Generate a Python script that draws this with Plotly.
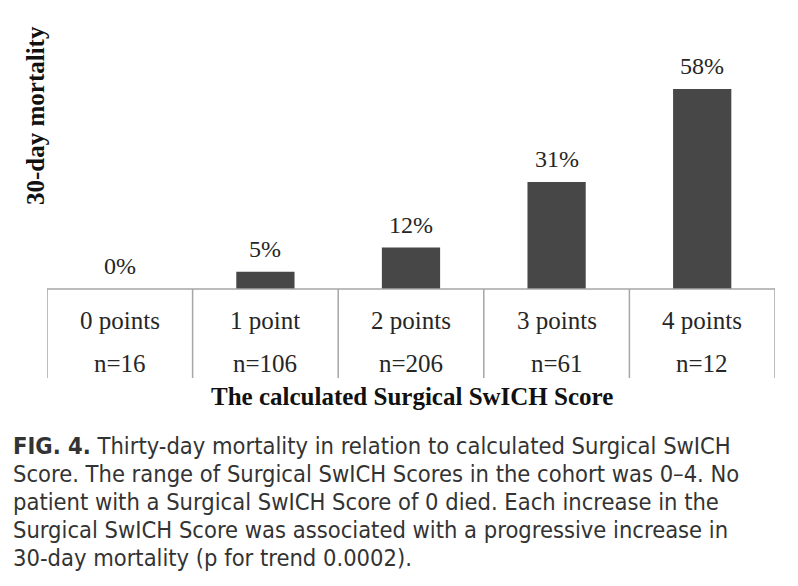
import plotly.graph_objects as go

categories = ["0 points", "1 point", "2 points", "3 points", "4 points"]
n_labels = ["n=16", "n=106", "n=206", "n=61", "n=12"]
mortality = [0, 5, 12, 31, 58]
y_title = "30-day mortality"
x_title = "The calculated Surgical SwICH Score"
caption_lines = [
    "<b>FIG. 4.</b> Thirty-day mortality in relation to calculated Surgical SwICH",
    "Score. The range of Surgical SwICH Scores in the cohort was 0\u20134. No",
    "patient with a Surgical SwICH Score of 0 died. Each increase in the",
    "Surgical SwICH Score was associated with a progressive increase in",
    "30-day mortality (p for trend 0.0002).",
]

W, H = 798, 586
ML, MR, MT = 47, 23, 20
BASE = 289
PH = BASE - MT  # plot height in px
MB = H - BASE

def py(pix):
    """paper y for a pixel row"""
    return (BASE - pix) / PH

def px(pix):
    return (pix - ML) / (W - ML - MR)

serif = "Liberation Serif, Times New Roman, serif"
cond = "Liberation Sans Narrow, Arial Narrow, DejaVu Sans Condensed, sans-serif"
txt = "#262626"
linec = "#a6a6a6"

xs = list(range(len(categories)))

fig = go.Figure(go.Bar(
    x=xs, y=mortality, width=0.4,
    marker=dict(color="#474747", line=dict(width=0)),
    hoverinfo="skip",
))

annotations = []
for i, v in enumerate(mortality):
    annotations.append(dict(x=i, y=v, xref="x", yref="y", text=f"{v}%",
                            showarrow=False, yanchor="middle", yshift=23,
                            font=dict(family=serif, size=24, color=txt)))
    annotations.append(dict(x=i, y=py(320), xref="x", yref="paper", text=categories[i],
                            showarrow=False, yanchor="middle",
                            font=dict(family=serif, size=25, color=txt)))
    annotations.append(dict(x=i, y=py(363), xref="x", yref="paper", text=n_labels[i],
                            showarrow=False, yanchor="middle",
                            font=dict(family=serif, size=25, color=txt)))

annotations.append(dict(x=px(412), y=py(396), xref="paper", yref="paper",
                        text=f"<b>{x_title}</b>", showarrow=False, yanchor="middle",
                        font=dict(family=serif, size=25, color="#111")))
annotations.append(dict(x=px(35), y=py(116), xref="paper", yref="paper",
                        text=f"<b>{y_title}</b>", showarrow=False, textangle=-90,
                        xanchor="center", yanchor="middle",
                        font=dict(family=serif, size=25, color="#111")))
for k, line in enumerate(caption_lines):
    annotations.append(dict(x=px(11), y=py(446 + 28 * k), xref="paper", yref="paper",
                            text=line, showarrow=False, xanchor="left", yanchor="middle",
                            align="left",
                            font=dict(family=cond, size=23.5, color="#333")))

shapes = []
for b in [-0.5, 0.5, 1.5, 2.5, 3.5, 4.5]:
    shapes.append(dict(type="line", xref="x", yref="paper", x0=b, x1=b,
                       y0=0, y1=py(378), line=dict(color=linec, width=1.5)))
shapes.append(dict(type="line", xref="x", yref="paper", x0=-0.5, x1=4.5,
                   y0=0, y1=0, line=dict(color=linec, width=1.5)))

fig.update_layout(
    width=W, height=H,
    margin=dict(l=ML, r=MR, t=MT, b=MB),
    paper_bgcolor="white", plot_bgcolor="white",
    showlegend=False,
    xaxis=dict(range=[-0.5, 4.5], showticklabels=False, showgrid=False,
               zeroline=False, showline=False, ticks=""),
    yaxis=dict(range=[0, PH / 200 * 58], showticklabels=False, showgrid=False,
               zeroline=False, showline=False, ticks=""),
    annotations=annotations,
    shapes=shapes,
)

fig.write_html("out.html", config={"displayModeBar": False},
               post_script="document.body.style.margin='0';")
